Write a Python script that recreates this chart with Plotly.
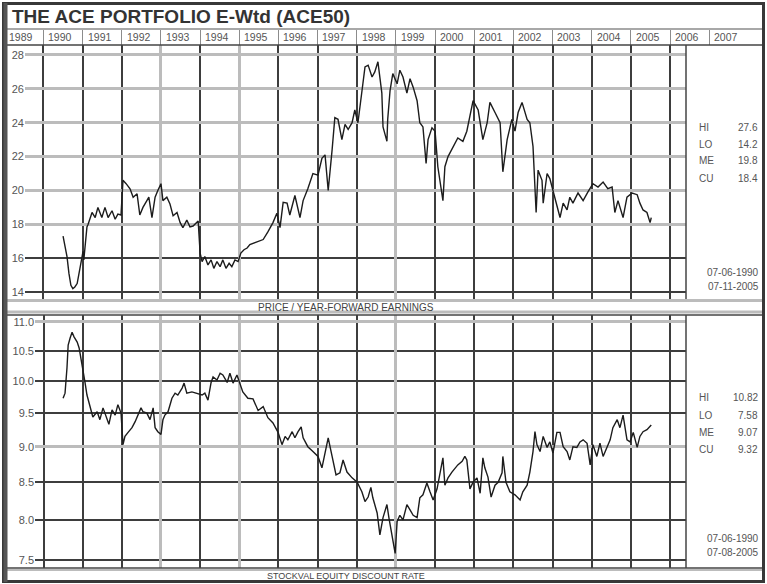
import plotly.graph_objects as go

W, H = 767, 584

# price / year-forward earnings (decimal year, value)
pe_year = [1990.50, 1990.60, 1990.65, 1990.70, 1990.75, 1990.80, 1990.86, 1990.93, 1991.01, 1991.03,
           1991.11, 1991.14, 1991.24, 1991.32, 1991.39, 1991.49, 1991.57, 1991.65, 1991.75, 1991.83,
           1991.90, 1991.98, 1992.03, 1992.11, 1992.21, 1992.29, 1992.39, 1992.46, 1992.54, 1992.64,
           1992.69, 1992.77, 1992.85, 1992.92, 1993.00, 1993.05, 1993.15, 1993.23, 1993.31, 1993.41,
           1993.49, 1993.56, 1993.66, 1993.74, 1993.82, 1993.95, 1994.00, 1994.05, 1994.12, 1994.20,
           1994.28, 1994.35, 1994.43, 1994.51, 1994.58, 1994.66, 1994.74, 1994.81, 1994.89, 1994.97,
           1995.04, 1995.12, 1995.20, 1995.27, 1995.45, 1995.61, 1995.73, 1995.86, 1995.96, 1996.04,
           1996.12, 1996.22, 1996.29, 1996.42, 1996.55, 1996.63, 1996.75, 1996.88, 1997.01, 1997.11,
           1997.19, 1997.27, 1997.37, 1997.44, 1997.52, 1997.62, 1997.70, 1997.78, 1997.88, 1997.95,
           1998.03, 1998.13, 1998.21, 1998.29, 1998.39, 1998.46, 1998.54, 1998.64, 1998.67, 1998.77,
           1998.79, 1998.85, 1998.92, 1999.03, 1999.10, 1999.18, 1999.28, 1999.36, 1999.44, 1999.54,
           1999.61, 1999.69, 1999.77, 1999.82, 1999.92, 2000.00, 2000.07, 2000.20, 2000.25, 2000.33,
           2000.46, 2000.58, 2000.71, 2000.81, 2000.89, 2000.97, 2001.10, 2001.22, 2001.33, 2001.40,
           2001.53, 2001.66, 2001.73, 2001.84, 2001.96, 2002.04, 2002.12, 2002.22, 2002.35, 2002.42,
           2002.50, 2002.58, 2002.63, 2002.73, 2002.76, 2002.86, 2002.93, 2003.01, 2003.11, 2003.19,
           2003.27, 2003.37, 2003.44, 2003.52, 2003.65, 2003.78, 2003.90, 2004.03, 2004.16, 2004.29,
           2004.41, 2004.52, 2004.59, 2004.67, 2004.80, 2004.90, 2005.03, 2005.16, 2005.23, 2005.31,
           2005.41, 2005.49, 2005.52]
pe_value = [17.3, 16.1, 15.1, 14.4, 14.2, 14.3, 14.5, 15.5, 16.4, 15.9,
            17.85, 18.0, 18.7, 18.4, 19.0, 18.4, 19.0, 18.4, 18.8, 18.3,
            18.6, 18.55, 20.6, 20.4, 20.1, 19.6, 19.8, 18.55, 19.0, 19.4,
            19.6, 18.4, 19.6, 20.0, 20.4, 19.4, 19.6, 19.2, 18.5, 18.7,
            18.1, 17.8, 18.25, 17.85, 17.9, 18.2, 16.3, 15.8, 16.1, 15.6,
            15.9, 15.4, 15.8, 15.5, 15.9, 15.4, 15.7, 15.5, 15.9, 15.8,
            16.3, 16.5, 16.6, 16.8, 16.95, 17.1, 17.55, 18.1, 18.65, 17.8,
            19.3, 19.25, 18.55, 19.7, 18.4, 19.4, 20.1, 21.0, 20.9, 21.9,
            22.1, 20.0, 22.4, 24.3, 24.2, 23.0, 23.9, 23.6, 24.0, 24.75,
            24.0, 25.75, 27.3, 27.4, 26.7, 27.0, 27.6, 25.75, 23.75, 22.9,
            24.2, 25.9, 26.9, 26.3, 27.1, 26.7, 25.75, 26.6, 26.1, 25.3,
            24.0, 23.75, 21.6, 23.0, 23.7, 23.5, 21.4, 19.4, 21.4, 22.0,
            22.6, 23.1, 22.9, 23.5, 24.4, 25.3, 24.75, 23.0, 24.0, 25.2,
            24.6, 24.0, 21.1, 23.0, 24.2, 23.5, 24.6, 25.2, 24.2, 24.0,
            22.6, 18.7, 21.2, 20.6, 19.25, 21.0, 20.7, 20.0, 19.0, 18.4,
            19.25, 18.85, 19.6, 19.25, 19.85, 19.4, 19.9, 20.4, 20.2, 20.5,
            20.1, 20.2, 18.7, 19.4, 18.4, 19.6, 19.85, 19.75, 19.25, 18.85,
            18.7, 18.1, 18.4]

# stockval equity discount rate
dr_year = [1990.50, 1990.55, 1990.60, 1990.63, 1990.68, 1990.73, 1990.78, 1990.86, 1990.91, 1990.98,
           1991.01, 1991.06, 1991.11, 1991.19, 1991.26, 1991.37, 1991.44, 1991.52, 1991.62, 1991.67,
           1991.75, 1991.83, 1991.90, 1991.98, 1992.03, 1992.08, 1992.16, 1992.26, 1992.34, 1992.41,
           1992.49, 1992.54, 1992.64, 1992.72, 1992.80, 1992.85, 1992.92, 1993.00, 1993.05, 1993.10,
           1993.18, 1993.28, 1993.36, 1993.43, 1993.54, 1993.59, 1993.66, 1993.79, 1993.92, 1994.05,
           1994.12, 1994.20, 1994.28, 1994.33, 1994.43, 1994.51, 1994.58, 1994.69, 1994.76, 1994.84,
           1994.94, 1995.01, 1995.09, 1995.22, 1995.35, 1995.48, 1995.61, 1995.73, 1995.86, 1995.99,
           1996.09, 1996.17, 1996.24, 1996.35, 1996.42, 1996.50, 1996.58, 1996.63, 1996.75, 1996.88,
           1997.01, 1997.11, 1997.19, 1997.27, 1997.37, 1997.47, 1997.57, 1997.65, 1997.75, 1997.88,
           1998.01, 1998.13, 1998.21, 1998.29, 1998.36, 1998.41, 1998.52, 1998.59, 1998.67, 1998.77,
           1998.82, 1998.90, 1998.98, 1999.03, 1999.10, 1999.18, 1999.28, 1999.36, 1999.44, 1999.54,
           1999.61, 1999.69, 1999.79, 1999.87, 1999.95, 2000.05, 2000.13, 2000.20, 2000.25, 2000.33,
           2000.43, 2000.51, 2000.58, 2000.69, 2000.76, 2000.81, 2000.89, 2000.97, 2001.07, 2001.15,
           2001.22, 2001.27, 2001.35, 2001.43, 2001.53, 2001.61, 2001.71, 2001.73, 2001.81, 2001.91,
           2002.04, 2002.17, 2002.24, 2002.35, 2002.42, 2002.50, 2002.55, 2002.60, 2002.68, 2002.76,
           2002.86, 2002.93, 2003.01, 2003.11, 2003.19, 2003.27, 2003.37, 2003.44, 2003.52, 2003.62,
           2003.70, 2003.78, 2003.88, 2003.96, 2004.03, 2004.13, 2004.21, 2004.29, 2004.39, 2004.47,
           2004.54, 2004.65, 2004.72, 2004.80, 2004.90, 2004.98, 2005.06, 2005.16, 2005.23, 2005.31,
           2005.41, 2005.52]
dr_value = [9.73, 9.81, 10.22, 10.6, 10.72, 10.82, 10.74, 10.65, 10.55, 10.3,
            10.15, 9.98, 9.78, 9.58, 9.44, 9.52, 9.4, 9.58, 9.43, 9.33,
            9.55, 9.47, 9.63, 9.5, 9.03, 9.15, 9.21, 9.28, 9.37, 9.47,
            9.58, 9.52, 9.5, 9.4, 9.58, 9.28, 9.22, 9.18, 9.4, 9.47,
            9.52, 9.73, 9.81, 9.78, 9.89, 9.97, 9.81, 9.83, 9.81, 9.78,
            9.81, 9.7, 9.98, 10.07, 10.02, 10.13, 10.1, 9.98, 10.13, 9.97,
            10.1, 9.97, 9.83, 9.73, 9.72, 9.54, 9.6, 9.43, 9.35, 9.21,
            9.03, 9.15, 9.1, 9.22, 9.13, 9.22, 9.29, 9.13, 9.0, 8.93,
            8.86, 8.7, 8.91, 9.13, 8.86, 8.6, 8.63, 8.81, 8.64, 8.56,
            8.5, 8.37, 8.24, 8.3, 8.43, 8.29, 8.09, 7.81, 8.03, 8.2,
            8.03, 7.81, 7.58, 7.98, 8.06, 8.0, 8.2, 8.13, 8.06, 8.03,
            8.29, 8.33, 8.49, 8.37, 8.26, 8.41, 8.64, 8.84, 8.46, 8.56,
            8.64, 8.7, 8.74, 8.79, 8.86, 8.81, 8.41, 8.5, 8.56, 8.35,
            8.84, 8.7, 8.57, 8.3, 8.46, 8.5, 8.63, 8.86, 8.5, 8.37,
            8.33, 8.26, 8.37, 8.46, 8.64, 8.93, 9.22, 9.03, 8.93, 9.15,
            8.99, 9.07, 8.91, 9.21, 9.21, 9.0, 8.93, 8.81, 9.0, 8.99,
            9.07, 9.1, 9.05, 8.74, 9.03, 8.86, 9.05, 8.86, 8.99, 9.1,
            9.28, 9.4, 9.28, 9.47, 9.1, 9.07, 9.21, 8.99, 9.15, 9.22,
            9.25, 9.32]

header_years = list(range(1989, 2008))
grid_years = list(range(1990, 2007))
light_years = [1993, 1995, 1999]
pe_ticks = [14, 16, 18, 20, 22, 24, 26, 28]
pe_light = [18, 20, 22, 24, 26, 28]
dr_ticks = [7.5, 8.0, 8.5, 9.0, 9.5, 10.0, 10.5, 11.0]
dr_light = [9.0, 11.0]

pe_stats = [("HI", "27.6"), ("LO", "14.2"), ("ME", "19.8"), ("CU", "18.4")]
dr_stats = [("HI", "10.82"), ("LO", "7.58"), ("ME", "9.07"), ("CU", "9.32")]
pe_dates = ["07-06-1990", "07-11-2005"]
dr_dates = ["07-06-1990", "07-08-2005"]


def fx(px):
    return px / W


def fy(py):
    return 1 - py / H


DARK = "#3d3d3d"
LIGHT = "#bcbcbc"
TXT = "#555555"
FONT = "Liberation Sans, Arial, sans-serif"

fig = go.Figure()
fig.add_trace(go.Scatter(x=pe_year, y=pe_value, mode="lines",
                         line=dict(color="#1c1c1c", width=1.4), xaxis="x", yaxis="y"))
fig.add_trace(go.Scatter(x=dr_year, y=dr_value, mode="lines",
                         line=dict(color="#1c1c1c", width=1.4), xaxis="x2", yaxis="y2"))
# empty traces so the overlay / header axes get drawn
for xa, ya in [("x3", "y3"), ("x4", "y4"), ("x5", "y5")]:
    fig.add_trace(go.Scatter(x=[None], y=[None], xaxis=xa, yaxis=ya, hoverinfo="skip"))

dark_years = [y for y in grid_years if y not in light_years]
x_top = [1989.528, 2006.407]
x_bot = [1989.783, 2006.407]
y_top = [13.53, 28.59]
y_bot = [0.86949, 1.04626]

base = dict(showticklabels=False, ticks="", zeroline=False, showline=False, fixedrange=True)

fig.update_layout(
    width=W, height=H, autosize=False, showlegend=False,
    margin=dict(l=0, r=0, t=0, b=0),
    paper_bgcolor="white", plot_bgcolor="white",
    font=dict(family=FONT, color=TXT),
    xaxis=dict(base, domain=[fx(25), fx(686)], range=x_top, tickvals=dark_years,
               gridcolor=DARK, gridwidth=1.5, anchor="y"),
    yaxis=dict(domain=[fy(300), fy(45)], range=y_top, tickvals=pe_ticks,
               ticktext=[str(v) for v in pe_ticks], ticks="", zeroline=False,
               gridcolor=DARK, gridwidth=1.5, tickfont=dict(size=11, color=TXT),
               anchor="x", fixedrange=True),
    xaxis3=dict(base, overlaying="x", range=x_top, tickvals=light_years,
                gridcolor=LIGHT, gridwidth=3, anchor="y3"),
    yaxis3=dict(base, overlaying="y", range=y_top, tickvals=pe_light,
                gridcolor=LIGHT, gridwidth=3, anchor="x3"),
    xaxis2=dict(base, domain=[fx(35), fx(686)], range=x_bot, tickvals=dark_years,
                gridcolor=DARK, gridwidth=1.5, anchor="y2"),
    yaxis2=dict(type="log", domain=[fy(568), fy(315)], range=y_bot, tickvals=dr_ticks,
                ticktext=["%.1f" % v for v in dr_ticks], ticks="", zeroline=False,
                gridcolor=DARK, gridwidth=1.5, tickfont=dict(size=11, color=TXT),
                anchor="x2", fixedrange=True),
    xaxis4=dict(base, overlaying="x2", range=x_bot, tickvals=light_years,
                gridcolor=LIGHT, gridwidth=3, anchor="y4"),
    yaxis4=dict(base, type="log", overlaying="y2", range=y_bot, tickvals=dr_light,
                gridcolor=LIGHT, gridwidth=3, anchor="x4"),
    xaxis5=dict(base, domain=[fx(8), fx(762)], range=[1989.093, 2008.348],
                tickvals=header_years[1:], gridcolor="#8c8c8c", gridwidth=1, anchor="y5"),
    yaxis5=dict(base, domain=[fy(45), fy(29)], range=[0, 1], showgrid=False, anchor="x5"),
)


def hline(py, color, width, x0=5, x1=762):
    return dict(type="line", xref="paper", yref="paper", x0=fx(x0), x1=fx(x1),
                y0=fy(py), y1=fy(py), line=dict(color=color, width=width))


def vline(px, y0, y1, color, width):
    return dict(type="line", xref="paper", yref="paper", x0=fx(px), x1=fx(px),
                y0=fy(y0), y1=fy(y1), line=dict(color=color, width=width))


shapes = [
    hline(29, "#a8a8a8", 2),
    hline(45, "#444444", 1.5),
    vline(686, 45, 300, "#444444", 1.5),
    hline(300.5, LIGHT, 3),
    hline(312, LIGHT, 3),
    hline(315, "#444444", 1.5),
    vline(686, 315, 568, "#444444", 1.5),
    hline(568, "#444444", 1.5),
    hline(570, LIGHT, 2),
    dict(type="rect", xref="paper", yref="paper", x0=fx(3.5), x1=fx(763.5),
         y0=fy(581.5), y1=fy(3.5), line=dict(color="#383838", width=3)),
    vline(5.5, 3, 582, "#555555", 4),
]
fig.update_layout(shapes=shapes)

ann = []
ann.append(dict(text="<b>THE ACE PORTFOLIO E-Wtd (ACE50)</b>", x=fx(10), y=fy(17),
                xref="paper", yref="paper", xanchor="left", yanchor="middle",
                showarrow=False, font=dict(size=19, color="#333333")))
for yr in header_years:
    ann.append(dict(text=str(yr), x=yr + 0.43, y=fy(37), xref="x5", yref="paper",
                    xanchor="center", yanchor="middle", showarrow=False,
                    font=dict(size=10.5, color=TXT)))


def stats(rows, top):
    for i, (lab, val) in enumerate(rows):
        py = top + i * 17
        ann.append(dict(text=lab, x=fx(697), y=fy(py), xref="paper", yref="paper",
                        xanchor="left", yanchor="middle", showarrow=False,
                        font=dict(size=10, color=TXT)))
        ann.append(dict(text=val, x=fx(760), y=fy(py), xref="paper", yref="paper",
                        xanchor="right", yanchor="middle", showarrow=False,
                        font=dict(size=10, color=TXT)))


def dates(rows, top):
    for i, d in enumerate(rows):
        ann.append(dict(text=d, x=fx(761), y=fy(top + i * 14.5), xref="paper", yref="paper",
                        xanchor="right", yanchor="middle", showarrow=False,
                        font=dict(size=10, color=TXT)))


stats(pe_stats, 127)
stats(dr_stats, 398)
dates(pe_dates, 272)
dates(dr_dates, 538)

ann.append(dict(text="PRICE / YEAR-FORWARD EARNINGS", x=fx(346), y=fy(307), xref="paper",
                yref="paper", xanchor="center", yanchor="middle", showarrow=False,
                font=dict(size=10, color="#444444")))
ann.append(dict(text="STOCKVAL EQUITY DISCOUNT RATE", x=fx(346), y=fy(575.5), xref="paper",
                yref="paper", xanchor="center", yanchor="middle", showarrow=False,
                font=dict(size=9, color="#444444")))
fig.update_layout(annotations=ann)

# the page's default body margin would shift the figure off the window
fig.write_html("out.html", config={"displayModeBar": False},
               post_script="document.body.style.margin='0';document.body.style.overflow='hidden';")
